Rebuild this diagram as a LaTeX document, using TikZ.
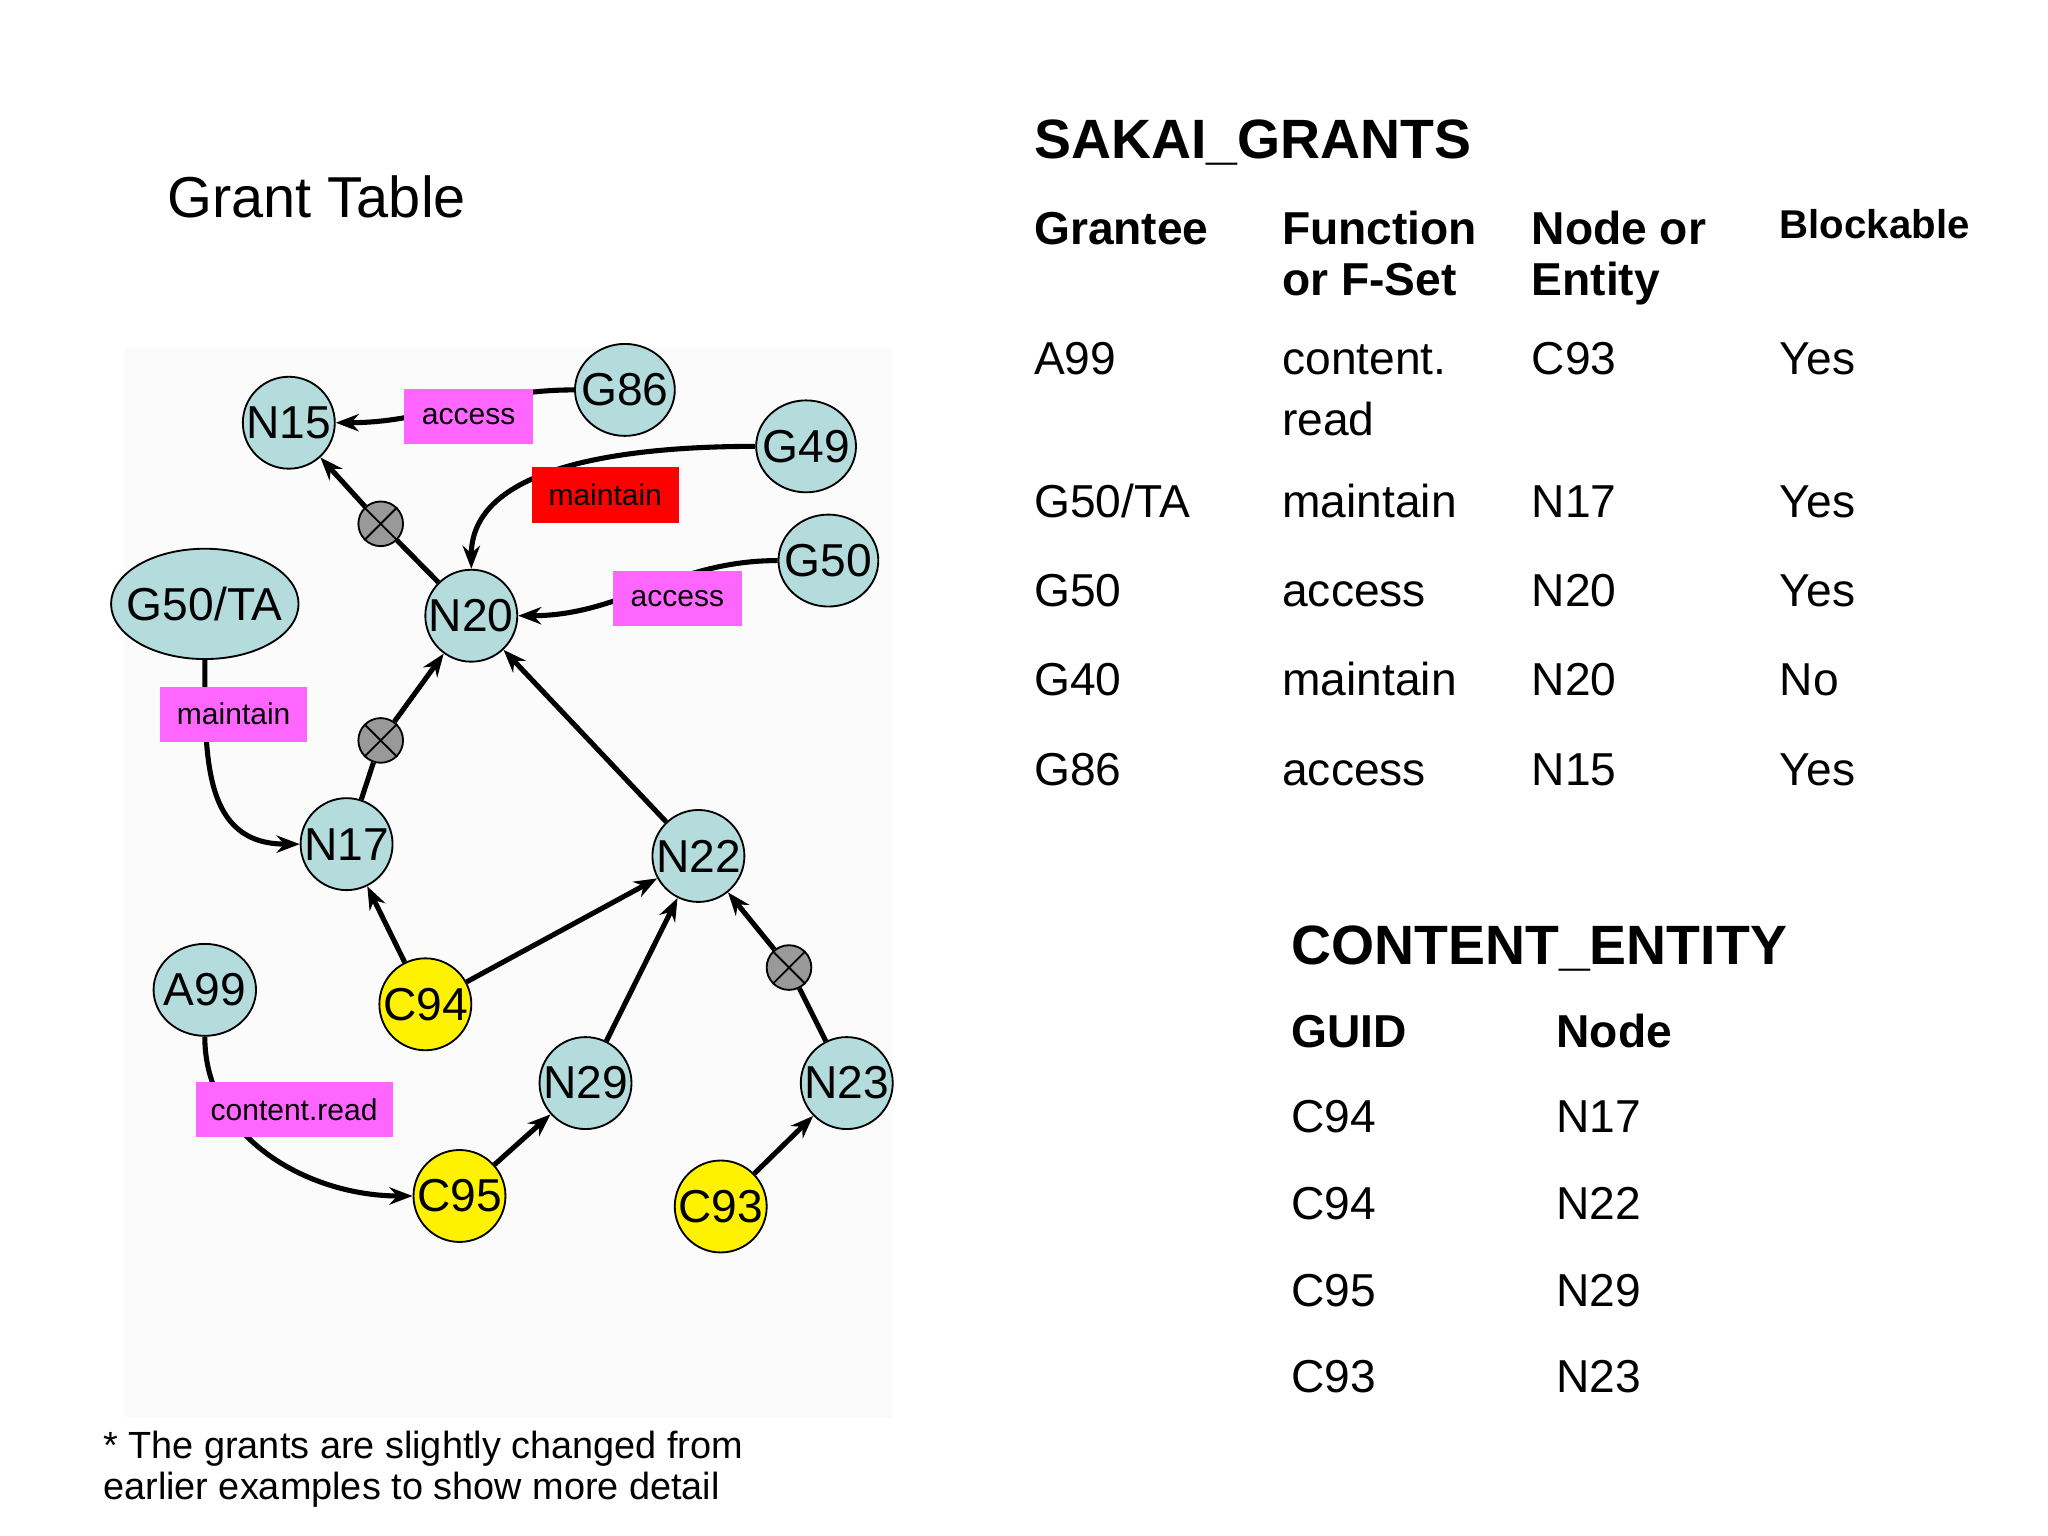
\documentclass[tikz,border=0pt]{standalone}
\usepackage{fontspec}
\setmainfont{Liberation Sans}
\usetikzlibrary{arrows.meta,shapes.geometric}
\definecolor{nodeblue}{HTML}{B4DCDC}
\definecolor{lblpink}{HTML}{FF66FF}
\begin{document}
\begin{tikzpicture}[x=0.01cm,y=-0.01cm,
  gnode/.style={ellipse,draw=black,fill=nodeblue,inner sep=-2.5pt,minimum width=0.7cm,minimum height=0.7cm,font=\fontsize{10}{12}\selectfont},
  cnode/.style={gnode,fill=yellow},
  blk/.style={circle,draw=black,fill=gray!80,minimum size=0.34cm,inner sep=0pt},
  lbl/.style={rectangle,fill=lblpink,minimum height=0.42cm,inner sep=1pt,font=\fontsize{6.5}{8}\selectfont},
  arr/.style={line width=1.1pt,-{Stealth[length=5pt]}},
  ln/.style={line width=1.1pt},
  hd/.style={anchor=base west,inner sep=0pt,font=\bfseries\fontsize{10}{12}\selectfont},
  td/.style={anchor=base west,inner sep=0pt,font=\fontsize{10}{12}\selectfont}]
\useasboundingbox (0,0) rectangle (1560,1170);
\fill[black!1.5] (95,265) rectangle (680,1080);

% graph nodes
\node[gnode] (N15) at (220,322) {N15};
\node[gnode,minimum width=0.76cm] (G86) at (476,297) {G86};
\node[gnode,minimum width=0.76cm] (G49) at (614,340) {G49};
\node[gnode,minimum width=0.76cm] (G50) at (631,427) {G50};
\node[gnode] (N20) at (359,469) {N20};
\node[gnode,minimum width=1.3cm,minimum height=0.84cm] (GTA) at (156,460) {G50/TA};
\node[gnode] (N17) at (264,643) {N17};
\node[gnode] (N22) at (532,652) {N22};
\node[gnode,minimum width=0.78cm] (A99) at (156,754) {A99};
\node[cnode] (C94) at (324,765) {C94};
\node[gnode] (N29) at (446,825) {N29};
\node[gnode] (N23) at (645,825) {N23};
\node[cnode] (C95) at (350,911) {C95};
\node[cnode] (C93) at (549,919) {C93};

% blocking markers
\node[blk] (B1) at (290,399) {};
\node[blk] (B2) at (290,564) {};
\node[blk] (B3) at (601,737) {};
\foreach \b in {B1,B2,B3}
  \draw (\b.north west) -- (\b.south east) (\b.north east) -- (\b.south west);

% connectors
\draw[arr] (G86.west) to[out=180,in=0] (N15.east);
\draw[arr] (G49.west) to[out=180,in=90,looseness=0.9] (N20.north);
\draw[arr] (G50.west) to[out=180,in=0] (N20.east);
\draw[arr] (GTA.south) to[out=-90,in=180,looseness=1.2] (N17.west);
\draw[arr] (A99.south) to[out=-90,in=180] (C95.west);
\draw[ln] (N20) -- (B1); \draw[arr] (B1) -- (N15);
\draw[ln] (N17) -- (B2); \draw[arr] (B2) -- (N20);
\draw[ln] (N23) -- (B3); \draw[arr] (B3) -- (N22);
\draw[arr] (N22) -- (N20);
\draw[arr] (C94) -- (N17);
\draw[arr] (C94) -- (N22);
\draw[arr] (N29) -- (N22);
\draw[arr] (C95) -- (N29);
\draw[arr] (C93) -- (N23);

% grant labels
\node[lbl,minimum width=0.98cm] (L1) at (357,317) {access};
\node[lbl,fill=red,minimum width=1.12cm] (L2) at (461,377) {maintain};
\node[lbl,minimum width=0.98cm] (L3) at (516,456) {access};
\node[lbl,minimum width=1.12cm] (L4) at (178,544) {maintain};
\node[lbl,minimum width=1.5cm] (L5) at (224,845) {content.read};

% title and footnote
\node[anchor=base west,inner sep=0pt,font=\fontsize{12.5}{15}\selectfont] (T) at (127,166) {Grant Table};
\node[anchor=base west,inner sep=0pt,font=\fontsize{8.2}{10}\selectfont] (F1) at (78,1111) {* The grants are slightly changed from};
\node[anchor=base west,inner sep=0pt,font=\fontsize{8.2}{10}\selectfont] (F2) at (78,1142) {earlier examples to show more detail};

% SAKAI_GRANTS table
\node[hd,font=\bfseries\fontsize{12}{14}\selectfont] at (787,121) {SAKAI\_GRANTS};
\node[hd] at (787,186) {Grantee};
\node[hd] at (976,186) {Function};
\node[hd] at (976,225) {or F-Set};
\node[hd] at (1166,186) {Node or};
\node[hd] at (1166,225) {Entity};
\node[hd,font=\bfseries\fontsize{8.7}{10}\selectfont] at (1355,182) {Blockable};
\foreach \y/\a/\b/\c/\d in {285/A99/content./C93/Yes,394/G50\slash TA/maintain/N17/Yes,462/G50/access/N20/Yes,530/G40/maintain/N20/No,598/G86/access/N15/Yes}{
  \node[td] at (787,\y) {\a};
  \node[td] at (976,\y) {\b};
  \node[td] at (1166,\y) {\c};
  \node[td] at (1355,\y) {\d};
}
\node[td] at (976,332) {read};

% CONTENT_ENTITY table
\node[hd,font=\bfseries\fontsize{12}{14}\selectfont] at (983,735) {CONTENT\_ENTITY};
\node[hd] at (983,798) {GUID};
\node[hd] at (1185,798) {Node};
\foreach \y/\a/\b in {863/C94/N17,929/C94/N22,995/C95/N29,1061/C93/N23}{
  \node[td] at (983,\y) {\a};
  \node[td] at (1185,\y) {\b};
}
\end{tikzpicture}
\end{document}
